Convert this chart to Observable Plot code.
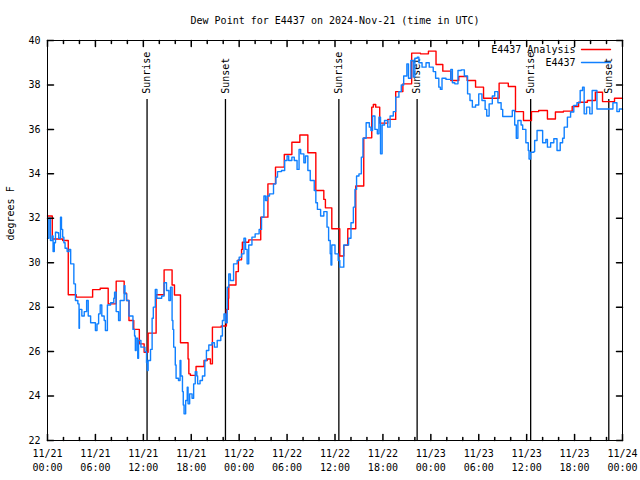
<!DOCTYPE html>
<html><head><meta charset="utf-8">
<script src="https://cdn.jsdelivr.net/npm/d3@7"></script>
<script src="https://cdn.jsdelivr.net/npm/@observablehq/plot@0.6"></script>
<style>body{margin:0;background:#fff}</style>
</head><body><div id="chart"></div>
<script>
const startTime = "2024-11-21T00:00:00Z";
const endTime = "2024-11-24T00:00:00Z";
const titleText = "Dew Point for E4437 on 2024-Nov-21 (time in UTC)";
const yLabel = "degrees F";
const analysisName = "E4437 Analysis";
const obsName = "E4437";

// Analysis (red) — hours after start, values in degrees F
const redHours = [0,0.6,1.9,2.6,3.6,5.65,6.6,7.6,8.6,9.6,9.9,10.2,10.8,11.5,12.1,12.6,13.6,14.6,15.6,15.9,16.65,17.6,17.7,17.9,18.6,19.6,20.0,20.4,20.65,21.75,22.4,22.65,22.7,23.6,23.9,24.3,24.4,25.2,26.7,27.6,28.55,29.65,30.6,31.6,32.6,33.6,34.6,34.8,35.6,36.6,37.1,37.6,38.6,39.6,40.6,40.8,41.1,41.6,42.6,43.6,44.5,45.6,46.7,47.7,48.65,49.5,50.5,51.5,52.55,53.6,54.6,56.55,57.7,58.6,59.6,60.6,61.5,62.6,63.6,64.6,65.7,66.5,67.6,68.6,69.5,71.0,72.0];
const redValues = [32.1,31.07,31.0,28.56,28.45,28.79,28.85,28.15,29.17,28.63,28.3,27.4,27.0,26.35,25.97,26.83,28.56,29.68,29.0,28.55,26.4,25.67,25.0,24.93,25.33,25.6,25.67,25.45,27.1,27.15,27.9,28.4,29.0,29.6,30.13,30.6,30.92,31.03,32.05,33.55,34.3,34.87,35.42,35.75,34.95,33.25,32.85,32.47,31.53,30.3,30.78,31.53,33.45,35.62,37.0,37.12,37.0,36.28,36.45,37.7,38.05,39.43,39.4,39.52,38.92,38.62,38.2,38.38,38.2,37.9,37.4,38.08,37.93,36.8,36.4,36.8,36.85,36.47,36.78,36.82,37.03,37.22,37.3,37.67,37.25,37.4,37.4];

// Observations (blue)
const blueHours = [0.0,0.17,0.37,0.6,0.7,0.85,1.0,1.2,1.4,1.63,1.75,1.9,2.05,2.2,2.46,2.7,2.9,3.3,3.5,3.8,3.95,4.0,4.3,4.6,4.9,5.1,5.4,5.8,6.0,6.2,6.4,6.6,6.8,7.1,7.25,7.5,7.9,8.3,8.4,8.6,8.9,9.1,9.6,9.7,9.9,10.2,10.7,10.9,11.0,11.1,11.3,11.4,11.7,12.2,12.4,12.5,12.6,12.9,13.1,13.25,13.5,13.7,14.3,14.6,14.9,15.2,15.4,15.6,15.7,15.8,16.0,16.1,16.4,16.6,16.7,16.9,17.0,17.1,17.3,17.5,17.6,17.8,18.1,18.3,18.5,18.7,18.8,19.1,19.4,19.7,19.9,20.2,20.6,20.9,21.25,21.7,21.9,22.1,22.3,22.5,22.7,22.9,23.3,23.75,24.0,24.3,24.6,24.8,25.0,25.2,25.6,26.0,26.5,26.8,27.1,27.3,27.5,27.8,28.3,28.6,28.8,29.3,29.7,30.0,30.2,30.6,30.9,31.25,31.5,31.7,32.1,32.3,32.6,32.9,33.4,33.6,33.8,34.2,34.6,35.0,35.2,35.4,35.5,35.6,36.0,36.4,36.6,37.1,37.7,38.0,38.3,38.5,38.7,39.0,39.3,39.5,39.9,40.3,40.5,40.7,41.0,41.3,41.5,41.7,41.9,42.2,42.6,42.9,43.3,43.6,44.0,44.3,44.6,45.0,45.2,45.5,45.8,46.0,46.3,46.5,46.9,47.4,47.8,48.3,48.6,49.0,49.2,49.4,49.9,50.5,50.7,51.0,51.4,51.8,52.2,52.6,52.9,53.2,53.6,54.0,54.4,54.8,55.0,55.3,55.7,56.0,56.4,56.8,57.0,58.0,58.2,58.5,58.7,58.9,59.3,59.5,59.9,60.2,60.3,60.5,60.9,61.0,61.3,62.0,62.4,62.6,63.0,63.4,63.8,64.2,64.5,64.7,65.1,65.5,65.9,66.3,66.7,67.0,67.2,67.5,67.9,68.2,68.8,70.8,71.3,71.6,72.0];
const blueValues = [31.1,32.0,31.0,31.2,30.5,30.9,31.37,31.35,31.1,32.05,31.5,31.15,30.9,30.65,30.5,30.6,29.95,29.05,28.3,28.15,27.05,27.9,27.6,27.8,28.3,27.6,27.3,27.3,26.95,27.25,27.7,28.1,27.6,27.4,26.95,28.1,28.2,28.4,28.67,27.8,27.4,28.3,28.97,28.6,28.3,27.6,27.0,26.7,26.05,26.6,25.7,26.5,26.2,26.0,25.5,25.15,25.6,26.1,27.5,28.0,28.8,28.4,28.5,29.1,28.75,28.3,28.9,27.4,27.0,26.2,25.4,24.8,24.7,25.6,24.9,24.2,23.6,23.2,23.8,24.4,23.65,24.1,23.9,24.55,25.1,24.9,24.55,24.7,24.9,25.6,26.05,26.3,26.4,26.2,26.5,26.7,27.4,27.7,27.3,28.9,29.5,29.2,29.95,30.1,30.25,30.4,31.1,30.6,29.95,30.8,31.15,31.3,31.5,32.05,33.0,32.8,33.0,33.1,33.55,33.85,34.1,34.15,34.6,34.8,34.6,34.75,34.6,34.2,35.1,34.9,34.5,34.8,34.15,33.7,33.25,32.7,32.4,32.1,32.3,31.6,31.0,30.4,29.9,30.8,30.4,30.1,29.8,30.8,31.1,31.8,32.5,33.3,33.9,34.0,34.75,35.6,36.3,36.1,35.95,36.6,36.0,35.8,36.55,34.9,36.2,36.4,36.1,36.6,36.8,37.45,37.7,38.0,38.4,38.95,38.3,39.1,38.35,39.2,39.25,39.0,38.8,39.0,38.8,38.6,38.3,37.9,37.8,38.3,38.25,38.7,38.1,38.05,38.65,38.68,38.4,37.6,37.3,37.0,37.1,37.6,37.3,36.9,36.6,37.15,37.5,37.7,37.2,36.9,36.58,36.58,36.85,36.2,35.6,36.4,36.2,36.0,35.4,35.05,34.67,34.97,35.0,35.5,35.95,35.4,35.55,35.2,35.4,35.58,35.05,35.4,35.6,36.1,36.55,36.78,37.08,37.2,37.75,37.9,36.7,37.0,36.7,37.75,36.92,37.2,36.8,36.92,36.9];

const sunTimes = ["2024-11-21T12:28:00Z","2024-11-21T22:17:00Z","2024-11-22T12:29:00Z","2024-11-22T22:17:00Z","2024-11-23T12:30:00Z","2024-11-23T22:17:00Z"];
const sunLabels = ["Sunrise","Sunset","Sunrise","Sunset","Sunrise","Sunset"];

const yTicks = [22,24,26,28,30,32,34,36,38,40];
const xMajorTimes = ["2024-11-21T00:00Z","2024-11-21T06:00Z","2024-11-21T12:00Z","2024-11-21T18:00Z","2024-11-22T00:00Z","2024-11-22T06:00Z","2024-11-22T12:00Z","2024-11-22T18:00Z","2024-11-23T00:00Z","2024-11-23T06:00Z","2024-11-23T12:00Z","2024-11-23T18:00Z","2024-11-24T00:00Z"];
const xTickLabels = ["11/21\n00:00","11/21\n06:00","11/21\n12:00","11/21\n18:00","11/22\n00:00","11/22\n06:00","11/22\n12:00","11/22\n18:00","11/23\n00:00","11/23\n06:00","11/23\n12:00","11/23\n18:00","11/24\n00:00"];
const xMinorHours = [2,4,8,10,14,16,20,22,26,28,32,34,38,40,44,46,50,52,56,58,62,64,68,70];

const t0 = new Date(startTime).getTime();
const toDate = h => new Date(t0 + h * 3600e3);
const red = redHours.map((h, i) => ({t: toDate(h), v: redValues[i]}));
const blue = blueHours.map((h, i) => ({t: toDate(h), v: blueValues[i]}));
const sun = sunTimes.map((s, i) => ({t: new Date(s), label: sunLabels[i]}));
const majors = xMajorTimes.map((s, i) => ({t: new Date(s), label: xTickLabels[i]}));
const minors = xMinorHours.map(toDate);

const tickShape = {draw(context, l) { context.moveTo(0, 0); context.lineTo(0, -l); }};
const RED = "#ff0000", BLUE = "#1080ff";

const chart = Plot.plot({
  width: 640, height: 480,
  marginTop: 40, marginRight: 18, marginBottom: 40, marginLeft: 47,
  style: {fontFamily: "'DejaVu Sans Mono', monospace", fontSize: "10px", background: "#fff", color: "#000"},
  x: {type: "utc", domain: [new Date(startTime), new Date(endTime)], axis: null},
  y: {domain: [22, 40], axis: null},
  marks: [
    // sunrise/sunset
    Plot.ruleX(sun, {x: "t", y1: 22, y2: 37.35, stroke: "#000", strokeWidth: 1.3}),
    Plot.text(sun, {x: "t", y: 37.6, text: "label", rotate: -90, textAnchor: "start", fill: "#000"}),
    // data
    Plot.line(red, {x: "t", y: "v", curve: "step-after", stroke: RED, strokeWidth: 1.4}),
    Plot.line(blue, {x: "t", y: "v", curve: "step-after", stroke: BLUE, strokeWidth: 1.4}),
    // frame and ticks
    Plot.frame({stroke: "#000", strokeWidth: 1}),
    Plot.vector(yTicks, {y: d => d, frameAnchor: "left", rotate: 90, length: 6, anchor: "start", shape: tickShape, stroke: "#000"}),
    Plot.vector(yTicks, {y: d => d, frameAnchor: "right", rotate: -90, length: 6, anchor: "start", shape: tickShape, stroke: "#000"}),
    Plot.vector(majors, {x: "t", frameAnchor: "bottom", rotate: 0, length: 6, anchor: "start", shape: tickShape, stroke: "#000"}),
    Plot.vector(majors, {x: "t", frameAnchor: "top", rotate: 180, length: 6, anchor: "start", shape: tickShape, stroke: "#000"}),
    Plot.vector(minors, {x: d => d, frameAnchor: "bottom", rotate: 0, length: 3, anchor: "start", shape: tickShape, stroke: "#000"}),
    Plot.vector(minors, {x: d => d, frameAnchor: "top", rotate: 180, length: 3, anchor: "start", shape: tickShape, stroke: "#000"}),
    // tick labels
    Plot.text(yTicks, {y: d => d, text: d => String(d), frameAnchor: "left", dx: -7, textAnchor: "end", fill: "#000"}),
    Plot.text(majors, {x: "t", text: "label", frameAnchor: "bottom", dy: 7, lineAnchor: "top", lineHeight: 1.35, fill: "#000"}),
    // title and axis label
    Plot.text([titleText], {text: d => d, frameAnchor: "top", dy: -20, lineAnchor: "middle", fill: "#000"}),
    Plot.text([yLabel], {text: d => d, frameAnchor: "left", dx: -37, rotate: -90, lineAnchor: "middle", fill: "#000"}),
    // legend
    Plot.text([analysisName], {text: d => d, frameAnchor: "top-right", dx: -47, dy: 9, textAnchor: "end", lineAnchor: "middle", fill: "#000"}),
    Plot.text([obsName], {text: d => d, frameAnchor: "top-right", dx: -47, dy: 22, textAnchor: "end", lineAnchor: "middle", fill: "#000"}),
    Plot.vector([analysisName], {frameAnchor: "top-right", dx: -41, dy: 9, rotate: 90, length: 29, anchor: "start", shape: tickShape, stroke: RED, strokeWidth: 1.4}),
    Plot.vector([obsName], {frameAnchor: "top-right", dx: -41, dy: 22, rotate: 90, length: 29, anchor: "start", shape: tickShape, stroke: BLUE, strokeWidth: 1.4})
  ]
});
document.getElementById("chart").appendChild(chart);
</script>
</body></html>
